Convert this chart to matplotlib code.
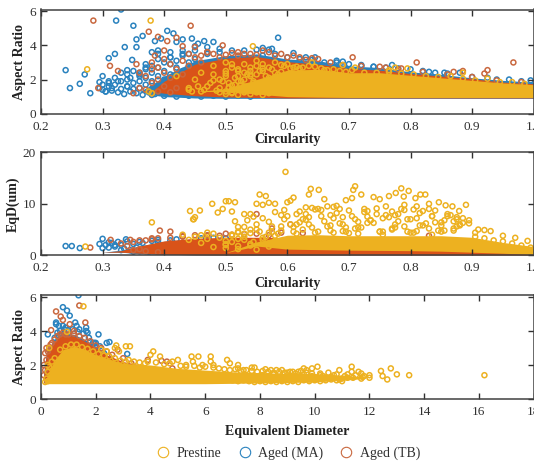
import matplotlib
matplotlib.use("Agg")
import matplotlib.pyplot as plt
from matplotlib.lines import Line2D

plt.rcParams['font.family'] = ['Liberation Serif', 'DejaVu Serif']

amarillo = "#EDB120"
azul = "#2A82BE"
naranja = "#D95319"
borde_naranja = "#C9683F"

# Panel 1: circularity / aspect ratio, rings
c1_azul_x = [.24,.247,.263,.271,.28,.295,.295,.305,.31,.31,.32,.322,.33,.336,.35,.355,.365,.355,.348,.34,.30,.315,.325,.345,.36,.37,.38,.385,.39,.395,.405,.415,.42,.43,.44,.445,.455,.465,.48,.41,.43,.45,.47,.49,.51,.53,.55,.57,.585,.56,.575,.61,.63,.645,.68,.69,.72,.74,.77,.80,.83,.855,.88,.925,.96,.995,
             .30,.305,.31,.315,.32,.325,.33,.335,.34,.345,.35,.355,.36,.365,.37,.375,.38,.385,.39,.395,.40,.405,.41,.30,.31,.32,.33,.34,.35,.36,.37,.38,.39,.40,.41,.42,.33,.34,.35,.36,.37,.38,.39,.40,.41,.42,.43,.44,.34,.36,.38,.40,.42,.44,.37,.39,.41,.43,.45,.47,.39,.41,.43,.45,.47,.49,.38,.40,.42,.44,.46,.48,.50,.52,.54,.56,.58,.60,.62,.64,.66,.68,.70,.72,.74,.76,.78,.82,.84,.86,.90,.94,.98]
c1_azul_y = [2.55,1.5,1.75,2.3,1.2,1.85,1.5,1.3,1.8,3.25,3.5,5.45,6.1,3.9,5.15,4.35,4.55,3.9,3.15,2.55,1.7,1.5,1.9,2.1,2.4,2.9,3.6,4.25,3.7,4.4,4.85,4.7,4.2,4.35,3.5,4.4,4.1,4.25,4.2,3.3,3.5,3.95,3.9,3.6,3.7,3.7,3.75,3.75,4.45,3.85,3.8,3.55,3.3,3.3,3.1,3.05,2.85,2.75,2.85,2.6,2.45,2.4,2.4,2.1,2.0,1.95,
             1.4,1.3,1.6,1.35,1.7,1.25,1.45,1.15,1.6,1.3,1.8,1.2,1.5,1.1,1.7,1.25,1.9,1.15,1.6,1.35,2.0,1.2,1.75,2.2,1.9,2.1,2.4,2.3,2.5,2.2,2.6,2.4,2.7,2.5,2.9,2.7,1.9,2.0,1.45,1.9,2.1,1.45,2.2,1.5,2.3,2.0,2.5,2.8,1.6,2.3,2.8,3.0,3.1,3.0,2.7,3.2,3.3,3.4,3.2,3.5,3.5,3.6,3.7,3.7,3.6,3.8,1.1,1.05,1.0,1.05,1.0,1.05,1.0,1.05,1.0,3.4,3.5,3.3,3.2,3.15,3.0,3.0,2.9,2.8,2.75,2.7,2.65,2.5,2.4,2.35,2.15,2.0,1.9]
c1_nar_x = [.285,.312,.325,.293,.355,.375,.39,.405,.42,.443,.385,.36,.43,.45,.495,.52,.40,.47,.54,.56,.59,.62,.65,.706,.76,.785,.81,.87,.885,.92,.925,.967,.35,.38,.46,
            .36,.37,.38,.39,.40,.41,.42,.37,.38,.39,.40,.41,.42,.43,.44,.38,.39,.40,.41,.43,.44,.45,.46,.47,.48,.49,.50,.51,.52,.53,.55,.57,.58,.60,.61,.63,.64,.67,.69,.72,.75,.78,.82,.86,.90,.94,.98]
c1_nar_y = [5.45,2.8,2.5,1.5,2.9,4.8,4.5,4.25,4.45,5.15,3.4,2.4,3.95,3.9,4.0,3.6,3.7,3.6,3.5,3.7,3.5,3.3,3.2,3.3,2.7,2.65,3.0,2.45,2.5,2.35,2.55,3.0,1.2,2.6,3.0,
            1.5,1.4,1.8,1.3,1.6,1.25,1.5,2.2,1.2,2.0,2.4,2.1,2.6,2.3,2.8,3.0,2.7,3.2,2.9,3.1,3.5,3.3,3.4,3.6,3.5,3.3,3.45,3.55,3.4,3.5,3.45,3.6,3.4,3.3,3.4,3.15,3.25,3.0,2.85,2.8,2.75,2.6,2.45,2.3,2.15,1.95,1.85]
c1_ama_x = [.275,.378,.544,.44,.42,.38,.45,.46,.48,.49,.50,.51,.52,.53,.54,.55,.44,.47,.49,.51,.53,.55,.56,.57,.58,.59,.60,.61,.62,.64,.66,.69,.71,.765,.775,.795,.885,.375,.46,.505,
            .445,.455,.465,.475,.485,.495,.505,.515,.525,.535,.545,.555,.565,.575,.585,.595,.605,.615,.625,.635,.645,.655,.665,.675,.685,.695,.705,.725,.745,.765,.785,.805,.825,.845,.865,.885,.905,.925,.945,.965,.985,.50,.52,.54,.56,.58,.51,.53,.55,.57,.59,.48,.50,.52,.54,.56,
            .50,.505,.51,.515,.52,.525,.53,.535,.54,.545,.55,.555,.56,.50,.51,.52,.53,.54,.55,.56,.57,.48,.49,.50,.51,.52,.53,.54,.55,.56,.57,.58]
c1_ama_y = [2.6,5.45,3.95,1.4,2.2,1.2,2.0,2.4,2.8,2.0,3.0,2.7,2.2,2.9,2.5,3.1,1.5,1.6,1.5,1.4,2.4,2.3,2.9,2.7,3.0,2.85,2.9,2.7,2.65,3.0,2.55,2.85,2.7,2.55,2.7,2.65,2.4,1.3,1.3,1.8,
            1.3,1.6,1.4,1.8,1.35,1.9,1.5,2.1,1.7,2.3,1.9,2.5,2.2,2.6,2.3,2.8,2.65,2.75,2.7,2.8,2.75,2.65,2.55,2.6,2.5,2.45,2.55,2.4,2.4,2.45,2.35,2.3,2.2,2.15,2.2,2.05,1.95,2.05,1.85,1.85,1.75,2.2,2.5,2.7,2.5,2.4,2.9,1.6,2.8,2.1,2.45,2.3,2.5,1.9,2.2,1.8,
            1.3,1.55,1.25,1.7,1.4,1.9,1.3,1.6,1.35,1.8,1.5,1.3,1.75,1.15,1.2,1.1,1.25,1.15,1.25,1.1,1.2,1.95,1.25,2.35,1.65,2.6,2.0,2.3,1.7,2.65,1.95,2.15]
# saturated part of each cloud, edges
c1_x = [.33,.36,.38,.40,.45,.50,.55,.60,.65,.70,.75,.80,.85,.90,.95,1.0]
c1_azul_alto = [1.3,1.3,1.7,2.2,3.1,3.4,3.5,3.2,3.1,2.8,2.7,2.45,2.3,2.1,1.95,1.85]
c1_azul_bajo = [1.3,1.3,1.1,1.0,.92,.9,.9,.9,.9,.9,.9,.9,.9,.9,.9,.9]
c1_nar_alto = [1.3,1.3,1.3,1.9,2.9,3.25,3.35,3.05,2.9,2.65,2.55,2.35,2.2,2.05,1.85,1.75]
c1_nar_bajo = [1.3,1.3,1.3,1.2,1.05,.98,.95,.92,.92,.92,.92,.92,.92,.92,.92,.92]
c1_ama_alto = [1.3,1.3,1.3,1.3,1.3,1.45,2.0,2.55,2.6,2.4,2.4,2.25,2.1,1.95,1.8,1.7]
c1_ama_bajo = [1.3,1.3,1.3,1.3,1.3,1.3,1.15,1.0,.97,.95,.95,.95,.95,.95,.95,.95]

# Panel 2: circularity / equivalent diameter
c2_azul_x = [.24,.25,.263,.30,.31,.32,.338,.36,.295,.33,.35,.39,.41,.46,.30,.305,.31,.315,.32,.325,.33,.335,.34,.345,.35,.355,.36,.365,.37,.375,.38,.385,.39,.40,.42,.44,.46,.48,.50]
c2_azul_y = [1.8,1.8,1.4,3.2,2.5,2.0,3.1,2.6,2.2,1.0,.7,3.0,2.9,.2,1.4,2.0,1.5,2.4,1.7,2.6,2.0,1.3,2.7,1.0,2.2,1.5,.8,2.4,1.1,.7,2.8,.9,2.6,.6,3.1,.5,3.3,3.4,3.3]
c2_nar_x = [.28,.313,.345,.38,.393,.41,.36,.43,.47,.50,.55,.625,.605,.83,.575,.33,.34,.35,.36,.37,.38,.39,.35,.37,.39,.41,.43,.45,.47,.49,.51,.53,.55,.57,.59]
c2_nar_y = [1.5,3.0,3.0,3.3,4.8,4.6,2.9,3.6,3.8,4.2,8.0,4.3,6.0,3.8,5.2,2.3,1.8,2.6,1.2,2.9,3.1,3.3,1.0,.8,.6,3.4,3.7,3.9,3.9,3.8,4.0,4.1,4.2,3.9,4.4]
c2_ama_x = [.272,.38,.442,.447,.45,.448,.458,.47,.478,.487,.495,.50,.505,.51,.515,.515,.52,.53,.535,.54,.545,.55,.53,.555,.56,.565,.57,.58,.59,.597,.60,.605,.61,.615,.62,.625,.63,.635,.638,.651,.64,.645,.66,.665,.67,.675,.68,.685,.69,.695,.70,.705,.707,.71,.715,.72,.725,.73,.735,.74,.745,.75,.755,.76,.765,.77,.775,.776,.78,.785,.789,.79,.797,.80,.805,.808,.81,.816,.82,.824,.83,.835,.84,.846,.85,.857,.86,.868,.87,.875,.879,.88,.885,.89,.895,.91,.92,.93,.95,.97,.99,.55,.57,.59,.61,.63,.65,.67,.69,.71,.73,.75,.77,.79,.81,.83,.85,.87,.52,.48,.46,
            .43,.44,.45,.46,.47,.48,.49,.50,.51,.52,.53,.54,.545,.555,.565,.575,.585,.595,.605,.615,.625,.635,.645,.655,.665,.675,.685,.695,.705,.715,.725,.735,.745,.755,.765,.775,.785,.795,.805,.815,.825,.835,.845,.855,.865,.875,.885,.895,.905,
            .55,.56,.57,.58,.59,.60,.61,.62,.63,.64,.65,.66,.67,.68,.69,.70,.71,.72,.73,.74,.75,.76,.77,.78,.79,.80,.81,.82,.83,.84,.85,.86,.87,.88,.575,.595,.615,.635,.655,.675,.695,.715,.735,.755,.775,.795,.815,.835,.855,.875,.50,.51,.52,.53,.54,
            .50,.51,.52,.53,.54,.55,.56,.57,.58,.59,.50,.52,.54,.56,.58,.905,.92,.935,.95,.965,.98,.995]
c2_ama_y = [1.7,6.4,8.6,7.0,7.4,7.0,8.7,4.4,10.0,8.3,9.0,10.5,10.5,8.5,10.3,6.6,5.5,8.0,6.8,8.0,7.5,10.0,5.5,11.8,9.8,11.5,10.2,10.0,7.8,16.2,10.3,10.6,11.2,6.0,8.5,7.0,9.3,11.8,12.9,12.7,9.2,8.9,10.9,9.5,7.8,9.4,9.6,6.2,7.4,10.7,8.7,11.1,12.7,13.4,6.5,11.8,9.0,7.5,6.8,11.3,9.1,10.9,7.2,9.5,11.5,8.5,6.0,12.1,8.0,13.0,11.4,9.8,12.5,7.0,8.9,11.1,9.5,11.8,8.6,11.8,10.0,7.6,8.7,10.3,6.4,9.7,8.0,9.5,6.6,7.4,8.6,5.8,6.3,9.8,6.2,5.0,4.9,4.7,3.8,3.4,2.8,5.0,6.5,4.8,5.5,6.9,4.6,5.8,4.7,5.2,6.3,4.6,5.0,5.6,4.7,5.2,5.8,4.8,4.4,4.2,3.9,
            4.0,3.0,3.6,2.4,3.2,1.6,3.4,2.2,4.0,1.8,3.0,4.3,2.6,4.6,3.6,5.6,4.2,7.0,6.0,8.0,5.0,7.4,4.4,8.8,5.6,7.2,9.0,4.6,7.6,5.4,8.4,6.8,8.0,4.6,7.4,5.4,9.0,7.0,4.4,8.2,6.2,7.6,4.8,6.8,7.8,5.6,7.2,6.8,4.4,
            6.0,7.2,4.4,8.4,5.6,7.6,4.6,6.4,8.0,5.4,9.0,6.6,4.8,8.2,6.0,4.3,7.0,5.4,8.6,6.3,4.6,7.8,5.2,6.6,8.8,4.4,7.2,5.8,9.0,6.4,4.6,7.6,5.2,6.0,4.5,8.8,4.2,6.0,7.6,4.4,5.4,4.2,6.8,4.0,7.8,4.6,5.8,4.0,4.8,7.0,2.8,3.8,4.6,4.2,5.0,
            1.4,2.6,1.2,3.6,1.9,1.1,3.0,1.7,3.8,2.4,2.0,3.2,2.2,3.4,2.8,3.6,3.3,2.9,2.7,2.3,1.9,1.5]
c2_x = [.30,.33,.36,.40,.45,.50,.55,.60,.65,.70,.75,.80,.85,.90,.95,1.0]
c2_azul_alto = [.6,1.0,1.8,2.7,3.2,3.2,3.2,3.1,2.9,2.6,2.2,1.9,1.6,1.3,1.0,.7]
c2_azul_bajo = [.6,.6,.3,.2,.1,.1,.1,.1,.1,.1,.1,.1,.1,.1,.1,.05]
c2_nar_alto = [.6,.9,1.8,2.8,3.3,3.5,3.5,3.4,3.1,2.8,2.5,2.2,1.9,1.6,1.2,.8]
c2_nar_bajo = [.6,.6,.4,.2,.1,.05,.05,.05,.05,.05,.05,.05,.05,.05,.05,.05]
c2_ama_alto = [.5,.5,.5,.5,.5,.5,2.6,3.9,4.0,3.8,3.8,3.8,3.8,3.5,2.5,1.7]
c2_ama_bajo = [.5,.5,.5,.5,.5,.5,1.8,1.2,1.1,1.0,.95,.9,.8,.6,.4,.15]

# Panel 3: equivalent diameter / aspect ratio
c3_azul_x = [1.37,.8,.95,1.05,.55,.55,.65,.8,.9,1.25,1.3,1.4,1.65,1.65,1.7,2.1,2.5,3.15,.25,2.3,1.9,2.4,2.0,.5,.6,.7,.85,1.0,1.15,1.35,1.55,1.75,1.95,2.15]
c3_azul_y = [6.1,5.4,5.2,4.9,4.5,4.4,4.3,4.3,4.2,4.5,4.3,4.1,4.2,4.0,3.9,3.8,3.35,2.65,3.8,2.7,3.3,3.3,3.3,3.6,3.9,4.0,4.1,4.05,4.1,3.95,3.85,3.6,3.3,3.1]
c3_nar_x = [.55,.72,.8,1.05,1.4,1.62,.37,.2,.15,.1,1.2,2.8,3.0,3.3,3.9,4.4,4.6,4.8,.9,.2,.25,.3,.35,.4,.5,.6,.7,.8,1.0,1.2,1.4,1.6,1.8,2.0,2.2,2.4,2.6,.1,.15,.2]
c3_nar_y = [5.15,4.85,4.65,4.4,5.5,4.5,4.05,3.0,2.7,2.0,4.0,2.9,2.4,2.1,2.3,2.25,2.2,1.8,3.8,2.3,2.8,3.0,3.2,3.3,3.5,3.7,3.8,3.9,3.8,3.85,3.7,3.6,3.4,3.15,3.0,2.8,2.6,1.4,1.7,1.2]
c3_ama_x = [1.55,.95,2.75,2.7,3.1,3.25,2.85,4.0,4.1,3.9,4.35,4.8,5.0,5.3,5.5,5.55,5.75,5.9,6.2,6.2,6.3,6.8,6.9,7.2,7.4,7.2,7.7,7.8,8.2,8.4,8.6,8.8,9.0,9.2,9.4,9.6,9.7,9.9,10.1,10.2,10.0,9.5,10.4,10.5,10.6,10.8,10.9,11.0,11.1,11.35,11.35,11.4,11.6,11.7,11.75,11.7,11.8,12.0,12.0,12.42,12.48,12.65,12.78,13.0,13.45,16.2,.15,.25,.3,8.9,9.1,9.3,9.5,9.8,10.2,10.6,10.9,11.2,2.2,2.4,
            3.2,3.4,3.6,3.8,4.2,4.5,4.7,5.1,5.3,5.6,5.8,6.0,6.3,6.5,6.7,6.9,7.1,7.3,7.5,7.7,7.9,8.1,8.3,8.5,8.7,8.9,9.1,9.3,9.5,9.7,9.9,7.0,7.2,7.4,7.6,7.8,8.0,8.2,8.4,8.6,8.8,9.0,9.2,9.4,9.6,9.8,10.0,10.2,10.4,10.6,10.8,11.0,8.1,8.3,8.5,8.7,9.0,9.3,9.6,9.9,10.3,10.7,11.2,11.5,.5,.7,.9,1.1,1.3,1.5,1.7,1.9,2.1,2.3,2.5,2.7,2.9,3.1,
            .2,.25,.3,.3,.35,.4,.45,.25,.35]
c3_ama_y = [5.45,3.95,3.15,3.0,3.1,3.1,2.8,2.6,2.8,2.2,2.5,2.2,2.3,2.0,2.5,2.2,2.5,2.0,2.5,2.2,2.0,2.3,2.1,1.8,1.7,2.0,1.85,1.85,1.75,1.7,1.7,1.7,1.55,1.6,1.6,1.8,1.7,1.8,1.9,1.5,1.2,1.3,1.25,1.55,1.3,1.45,1.7,1.2,1.35,1.9,1.6,1.25,1.6,1.5,1.3,1.2,1.35,1.4,1.25,1.65,1.35,1.15,1.8,1.45,1.4,1.4,1.0,2.0,3.0,1.25,1.15,1.2,1.25,1.15,1.4,1.25,1.15,1.25,2.9,2.8,
            2.3,2.2,2.15,2.1,2.15,2.05,2.1,1.95,1.9,1.95,1.85,1.9,1.85,1.8,1.75,1.7,1.75,1.65,1.7,1.65,1.6,1.65,1.6,1.55,1.6,1.55,1.6,1.5,1.65,1.55,1.5,1.1,1.05,1.1,1.05,1.0,1.05,1.0,1.05,1.0,1.05,1.0,1.05,1.0,1.1,1.05,1.1,1.05,1.1,1.15,1.1,1.05,1.4,1.35,1.45,1.3,1.4,1.35,1.45,1.35,1.35,1.4,1.45,1.4,2.4,2.9,3.1,3.2,3.2,3.05,2.95,2.8,2.65,2.55,2.5,2.4,2.25,2.2,
            1.2,1.6,1.1,1.9,1.4,2.2,1.7,1.05,1.2]
c3_x = [.1,.2,.4,.6,.8,1.2,1.6,2.0,2.4,3.0,4.0,5.0,6.0,7.0,8.0,9.0,10.0,11.0,11.8]
c3_azul_alto = [1.5,2.8,3.3,3.7,3.9,3.8,3.5,3.1,2.6,2.0,1.2,1.2,1.2,1.2,1.2,1.2,1.2,1.2,1.2]
c3_azul_bajo = [.95,.95,.95,.95,.95,.95,.95,.95,.95,.95,1.2,1.2,1.2,1.2,1.2,1.2,1.2,1.2,1.2]
c3_nar_alto = [1.5,2.7,3.2,3.6,3.8,3.7,3.4,3.0,2.6,2.2,1.9,1.2,1.2,1.2,1.2,1.2,1.2,1.2,1.2]
c3_nar_bajo = [.95,.95,.95,.95,.95,.95,.95,.95,.95,.95,1.1,1.2,1.2,1.2,1.2,1.2,1.2,1.2,1.2]
c3_ama_alto = [.95,1.1,2.0,2.5,2.9,3.1,2.9,2.6,2.4,2.1,2.0,1.8,1.7,1.6,1.55,1.5,1.5,1.4,1.3]
c3_ama_bajo = [.95,.9,.9,.9,.9,.9,.9,.9,.9,.9,.9,.9,.9,.92,.95,.97,1.0,1.1,1.2]

titulos_y = ["Aspect Ratio", "EqD(um)", "Aspect Ratio"]
titulos_x = ["Circularity", "Circularity", "Equivalent Diameter"]
leyenda = ["Prestine", "Aged (MA)", "Aged (TB)"]

W, H = 534, 466
fig = plt.figure(figsize=(W/100, H/100), dpi=100)


def panel(arriba, abajo):
    ax = fig.add_axes([41/W, 1-abajo/H, 492.7/W, (abajo-arriba)/H])
    return ax


def nube(ax, x, alto, bajo, color):
    ax.fill_between(x, bajo, alto, color=color, lw=0)


def anillos(ax, x, y, color):
    ax.scatter(x, y, s=13, facecolors="none", edgecolors=color, linewidths=1.1)


ax1 = panel(9.5, 113.7)
nube(ax1, c1_x, c1_azul_alto, c1_azul_bajo, azul)
anillos(ax1, c1_azul_x, c1_azul_y, azul)
nube(ax1, c1_x, c1_nar_alto, c1_nar_bajo, naranja)
anillos(ax1, c1_nar_x, c1_nar_y, borde_naranja)
nube(ax1, c1_x, c1_ama_alto, c1_ama_bajo, amarillo)
anillos(ax1, c1_ama_x, c1_ama_y, amarillo)
ax1.set_xlim(.2, 1)
ax1.set_ylim(0, 6.1)
ax1.set_yticks([0, 2, 4, 6])

ax2 = panel(152.3, 255.3)
nube(ax2, c2_x, c2_azul_alto, c2_azul_bajo, azul)
anillos(ax2, c2_azul_x, c2_azul_y, azul)
nube(ax2, c2_x, c2_nar_alto, c2_nar_bajo, naranja)
anillos(ax2, c2_nar_x, c2_nar_y, borde_naranja)
nube(ax2, c2_x, c2_ama_alto, c2_ama_bajo, amarillo)
anillos(ax2, c2_ama_x, c2_ama_y, amarillo)
ax2.set_xlim(.2, 1)
ax2.set_ylim(0, 20)
ax2.set_yticks([0, 10, 20])

ax3 = panel(295.3, 399)
nube(ax3, c3_x, c3_azul_alto, c3_azul_bajo, azul)
anillos(ax3, c3_azul_x, c3_azul_y, azul)
nube(ax3, c3_x, c3_nar_alto, c3_nar_bajo, naranja)
anillos(ax3, c3_nar_x, c3_nar_y, borde_naranja)
nube(ax3, c3_x, c3_ama_alto, c3_ama_bajo, amarillo)
anillos(ax3, c3_ama_x, c3_ama_y, amarillo)
ax3.set_xlim(0, 18)
ax3.set_ylim(0, 6.1)
ax3.set_yticks([0, 2, 4, 6])
ax3.set_xticks(range(0, 19, 2))

for i, ax in enumerate([ax1, ax2, ax3]):
    ax.tick_params(direction="in", top=True, right=True, length=4, width=1, color="#303030",
                   labelsize=9.5, labelcolor="#303030")
    ax.tick_params(axis="x", pad=5)
    for s in ax.spines.values():
        s.set_linewidth(1.1)
        s.set_color("#404040")
    ax.set_ylabel(titulos_y[i], fontweight="bold", fontsize=10, color="#222222")
    ax.yaxis.set_label_coords(([26, 20, 26][i] - 41)/492.7, .5)
    ax.set_xlabel(titulos_x[i], fontweight="bold", fontsize=10, color="#222222", labelpad=[0, 2, 5][i])

marcas = [Line2D([], [], ls="none", marker="o", mfc="none", mec=c, mew=.8, ms=7.5)
          for c in [amarillo, azul, borde_naranja]]
fig.legend(marcas, leyenda, ncol=3, frameon=False, loc="center", bbox_to_anchor=(287/W, 1-453/H),
           fontsize=10, labelcolor="#303030", columnspacing=.95, handletextpad=.3, handlelength=1.4)

fig.savefig("out.png", dpi=100)
